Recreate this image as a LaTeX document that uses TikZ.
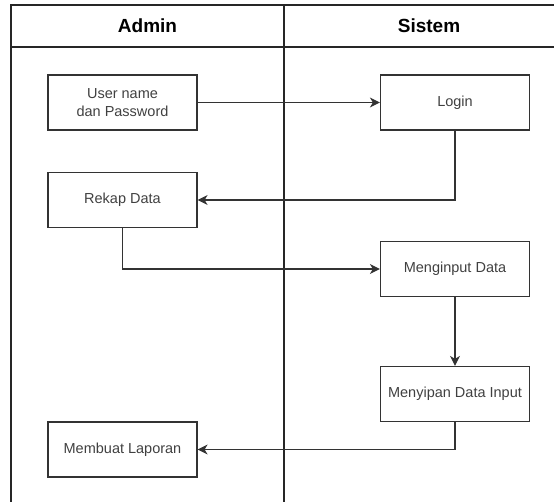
\documentclass[tikz,border=0pt]{standalone}
\usepackage{fontspec}
\setmainfont{Liberation Sans}
\usetikzlibrary{arrows.meta}

\tikzset{
  lane/.style={line width=1.6pt,draw=black!85},
  stepbox/.style={draw=black!80,line width=1.2pt,minimum width=149pt,minimum height=55pt,
    align=center,inner sep=2pt,font=\fontsize{14.5}{17.5}\selectfont,text=black!75},
  flow/.style={line width=1.2pt,draw=black!80,-{Stealth[length=10pt,width=10pt,inset=3pt]}},
  title/.style={font=\fontsize{19}{22}\selectfont\bfseries}
}

\begin{document}
\begin{tikzpicture}[x=1pt,y=-1pt]
\useasboundingbox (0,0) rectangle (554,502);
\draw[lane] (11,502)--(11,5)--(554,5);
\draw[lane] (11,47)--(554,47);
\draw[lane] (284,5)--(284,502);
\node[title] (admin) at (147.5,26) {Admin};
\node[title] (sistem) at (429,26) {Sistem};

\node[stepbox] (user) at (122.5,102.5) {User name\\dan Password};
\node[stepbox] (rekap) at (122.5,200) {Rekap Data};
\node[stepbox] (laporan) at (122.5,449.5) {Membuat Laporan};
\node[stepbox] (login) at (455,102.5) {Login};
\node[stepbox] (input) at (455,269) {Menginput Data};
\node[stepbox] (simpan) at (455,394) {Menyipan Data Input};

\draw[flow] (user.east)--(login.west);
\draw[flow] (login.south)|-(rekap.east);
\draw[flow] (rekap.south)|-(input.west);
\draw[flow] (input.south)--(simpan.north);
\draw[flow] (simpan.south)|-(laporan.east);
\end{tikzpicture}
\end{document}
